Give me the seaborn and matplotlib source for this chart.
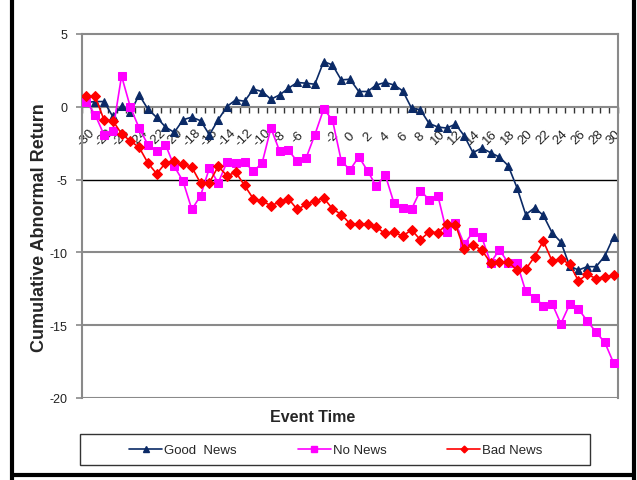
import numpy as np
import pandas as pd
import matplotlib
matplotlib.use("Agg")
import matplotlib.pyplot as plt
from matplotlib.lines import Line2D
from matplotlib.patches import Rectangle
import seaborn as sns

# Event window and cumulative abnormal returns (%)
event_time = list(range(-30, 31))

good_news = [
    0.30, 0.36, 0.36, -0.66, 0.07, -0.39, 0.82, -0.16, -0.73, -1.39,
    -1.76, -0.89, -0.71, -0.96, -1.92, -0.89, 0.02, 0.48, 0.38, 1.21,
    1.05, 0.52, 0.82, 1.28, 1.67, 1.62, 1.55, 3.10, 2.88, 1.85,
    1.89, 1.05, 1.05, 1.50, 1.67, 1.50, 1.10, -0.09, -0.20, -1.14,
    -1.39, -1.46, -1.19, -1.99, -3.15, -2.83, -3.15, -3.45, -4.04, -5.55,
    -7.40, -6.94, -7.45, -8.65, -9.29, -10.94, -11.21, -10.98, -10.98, -10.25,
    -8.93,
]

no_news = [
    0.36, -0.55, -1.92, -1.69, 2.12, -0.02, -1.46, -2.60, -3.06, -2.60,
    -4.09, -5.11, -7.05, -6.10, -4.20, -5.23, -3.80, -3.88, -3.80, -4.43,
    -3.86, -1.46, -3.06, -2.99, -3.75, -3.52, -1.92, -0.16, -0.89, -3.70,
    -4.34, -3.43, -4.40, -5.46, -4.66, -6.60, -6.97, -7.03, -5.76, -6.37,
    -6.10, -8.60, -7.95, -9.45, -8.60, -8.96, -10.71, -9.82, -10.71, -10.71,
    -12.68, -13.10, -13.65, -13.52, -14.90, -13.56, -13.90, -14.70, -15.48, -16.18,
    -17.60,
]

bad_news = [
    0.71, 0.71, -0.89, -0.95, -1.85, -2.35, -2.78, -3.86, -4.60, -3.86,
    -3.75, -3.95, -4.15, -5.25, -5.20, -4.09, -4.73, -4.50, -5.40, -6.32,
    -6.48, -6.78, -6.55, -6.32, -7.05, -6.71, -6.48, -6.26, -7.00, -7.40,
    -8.02, -8.05, -8.05, -8.28, -8.70, -8.62, -8.88, -8.45, -9.13, -8.60,
    -8.65, -8.08, -8.10, -9.79, -9.50, -9.84, -10.71, -10.66, -10.66, -11.21,
    -11.16, -10.30, -9.22, -10.59, -10.43, -10.82, -11.96, -11.50, -11.80, -11.66,
    -11.58,
]

series_names = ["Good  News", "No News", "Bad News"]
y_ticks = [5, 0, -5, -10, -15, -20]
x_tick_labels = list(range(-30, 31, 2))

sns.set_theme(style="white")
plt.rcParams["font.family"] = ["Liberation Sans", "DejaVu Sans"]

W, H = 637, 481
fig = plt.figure(figsize=(W / 100, H / 100), dpi=100)
fig.patch.set_facecolor("white")
ax = fig.add_axes([82 / W, 1 - 399 / H, (618 - 82) / W, (399 - 35) / H])
ax.set_facecolor("white")

grey = "#8a8a8a"

# horizontal reference lines
ax.axhline(-5, color="black", lw=1.0, zorder=1)
ax.axhline(-10, color=grey, lw=1.5, zorder=1)
ax.axhline(-15, color=grey, lw=1.5, zorder=1)
ax.axhline(-20, color=grey, lw=1.5, zorder=1)

styles = [
    dict(color="#0b2a66", marker="^", markersize=6.0),
    dict(color="#ff00ff", marker="s", markersize=5.6),
    dict(color="#ff0000", marker="D", markersize=4.6),
]

df = pd.DataFrame({
    "Event Time": event_time * 3,
    "CAR": good_news + no_news + bad_news,
    "Series": sum([[n] * len(event_time) for n in series_names], []),
})

for name, st in zip(series_names, styles):
    sub = df[df["Series"] == name]
    sns.lineplot(data=sub, x="Event Time", y="CAR", ax=ax, color=st["color"],
                 marker=st["marker"], markersize=st["markersize"],
                 markeredgecolor=st["color"], markerfacecolor=st["color"],
                 linewidth=1.2, legend=False, zorder=3)

ax.set_xlim(-30.5, 30.5)
ax.set_ylim(-20, 5)

# spines
for side in ["left", "right", "top", "bottom"]:
    ax.spines[side].set_visible(True)
    ax.spines[side].set_color(grey)
    ax.spines[side].set_linewidth(1.5)
ax.spines["bottom"].set_position(("data", 0))

# y axis
ax.set_yticks(y_ticks)
ax.set_yticklabels([str(v) for v in y_ticks])
ax.tick_params(axis="y", direction="out", length=4, width=1.2, color=grey,
               pad=6.5, labelsize=9, labelcolor="#222222", left=True)

# x axis: tick marks between categories, labels on every other category
ax.set_xticks(x_tick_labels)
ax.set_xticklabels([str(v) for v in x_tick_labels])
ax.set_xticks(np.arange(-30.5, 31.0, 1.0), minor=True)
ax.tick_params(axis="x", which="major", length=0, pad=21.5, labelsize=9.5,
               labelcolor="#222222", bottom=True)
ax.tick_params(axis="x", which="minor", direction="out", length=4, width=1.0,
               color="#333333", bottom=True)
for lbl in ax.get_xticklabels():
    lbl.set_rotation(45)
    lbl.set_rotation_mode("anchor")
    lbl.set_ha("center")
    lbl.set_va("center")

ax.set_xlabel("")
ax.set_ylabel("")
ax.grid(False)

# axis titles
fig.text(40 / W, 1 - 228 / H, "Cumulative Abnormal Return", rotation=90,
         ha="center", va="center", fontsize=13, fontweight="bold")
fig.text(313 / W, 1 - 418 / H, "Event Time", ha="center", va="center",
         fontsize=11.5, fontweight="bold")

# legend
handles = [Line2D([0], [0], color=st["color"], marker=st["marker"],
                  markersize=st["markersize"] * 0.75, lw=1.2,
                  markeredgecolor=st["color"]) for st in styles]
fig.legend(handles, series_names, loc="center", ncol=3, frameon=False,
           bbox_to_anchor=(336 / W, 1 - 451 / H), fontsize=9.5,
           handlelength=2.5, handletextpad=0.15, columnspacing=4.6)
fig.patches.append(Rectangle((80 / W, 1 - 466 / H), (590 - 80) / W, (466 - 435) / H,
                             transform=fig.transFigure, fill=False,
                             edgecolor="#333333", lw=1.0))

# chart frame
for xs, ys in [([12 / W, 12 / W], [0, 1]), ([634 / W, 634 / W], [0, 1]),
               ([12 / W, 634 / W], [1 - 476 / H, 1 - 476 / H])]:
    fig.add_artist(Line2D(xs, ys, transform=fig.transFigure, color="black", lw=3))

fig.savefig("out.png", dpi=100)
